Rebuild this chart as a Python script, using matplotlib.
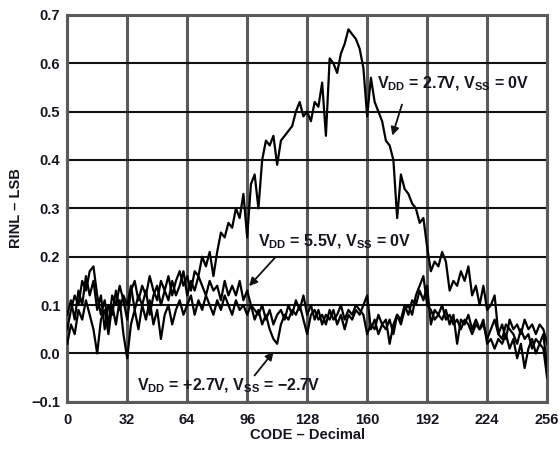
import matplotlib
matplotlib.use('Agg')
import matplotlib.pyplot as plt
import numpy as np

plt.rcParams['font.family'] = ['Liberation Sans', 'DejaVu Sans']
plt.rcParams['mathtext.fontset'] = 'custom'
plt.rcParams['mathtext.bf'] = 'Liberation Sans:bold'
plt.rcParams['mathtext.rm'] = 'Liberation Sans'

# codigos 0..256 de 2 em 2
codes = list(range(0, 258, 2))

# VDD = 2.7V, VSS = 0V
rinl_27 = [0.05, 0.09, 0.12, 0.10, 0.15, 0.13, 0.17, 0.18, 0.12, 0.08,
           0.11, 0.06, 0.12, 0.10, 0.14, 0.11, 0.07, 0.13, 0.15, 0.11,
           0.14, 0.12, 0.16, 0.13, 0.11, 0.15, 0.13, 0.16, 0.12, 0.15,
           0.17, 0.14, 0.16, 0.13, 0.17, 0.16, 0.20, 0.18, 0.21, 0.16,
           0.21, 0.25, 0.24, 0.27, 0.26, 0.30, 0.28, 0.33, 0.24, 0.35,
           0.37, 0.30, 0.40, 0.44, 0.43, 0.45, 0.39, 0.44, 0.45, 0.46,
           0.47, 0.50, 0.52, 0.49, 0.50, 0.48, 0.52, 0.51, 0.56, 0.45,
           0.61, 0.60, 0.58, 0.62, 0.64, 0.67, 0.66, 0.65, 0.63, 0.59,
           0.49, 0.57, 0.52, 0.50, 0.48, 0.44, 0.43, 0.40, 0.28, 0.37,
           0.34, 0.33, 0.31, 0.30, 0.27, 0.28, 0.22, 0.17, 0.19, 0.18,
           0.21, 0.19, 0.13, 0.15, 0.14, 0.17, 0.15, 0.18, 0.12, 0.14,
           0.10, 0.14, 0.09, 0.10, 0.12, 0.04, 0.03, 0.06, 0.05, 0.04,
           0.02, 0.05, 0.03, 0.04, 0.01, 0.03, 0.02, 0.04, -0.03]

# VDD = 5.5V, VSS = 0V
rinl_55 = [0.08, 0.11, 0.07, 0.13, 0.10, 0.16, 0.12, 0.15, 0.09, 0.12,
           0.05, 0.10, 0.08, 0.13, 0.09, 0.12, 0.10, 0.14, 0.09, 0.12,
           0.10, 0.13, 0.08, 0.12, 0.14, 0.10, 0.13, 0.11, 0.15, 0.12,
           0.14, 0.17, 0.12, 0.15, 0.13, 0.16, 0.14, 0.12, 0.15, 0.13,
           0.14, 0.11, 0.15, 0.12, 0.14, 0.12, 0.15, 0.11, 0.13, 0.10,
           0.09, 0.08, 0.10, 0.07, 0.09, 0.06, 0.08, 0.09, 0.07, 0.10,
           0.08, 0.11, 0.09, 0.12, 0.08, 0.10, 0.07, 0.09, 0.06, 0.08,
           0.07, 0.09, 0.06, 0.08, 0.05, 0.08, 0.07, 0.09, 0.08, 0.10,
           0.12, 0.05, 0.07, 0.04, 0.06, 0.05, 0.07, 0.04, 0.08, 0.06,
           0.09, 0.10, 0.08, 0.12, 0.14, 0.16, 0.10, 0.09, 0.07, 0.08,
           0.07, 0.09, 0.06, 0.08, 0.02, 0.07, 0.06, 0.08, 0.05, 0.07,
           0.05, 0.06, 0.03, 0.05, 0.07, 0.04, 0.06, 0.03, 0.07, 0.05,
           0.06, 0.04, 0.07, 0.05, 0.06, 0.04, 0.06, 0.05, 0.02]

# VDD = +2.7V, VSS = -2.7V
rinl_pm27 = [0.02, 0.06, 0.04, 0.09, 0.07, 0.11, 0.08, 0.05, 0.00, 0.07,
             0.09, 0.04, 0.10, 0.06, 0.11, 0.04, -0.01, 0.06, 0.09, 0.05,
             0.10, 0.07, 0.11, 0.06, 0.09, 0.03, 0.08, 0.10, 0.06, 0.09,
             0.11, 0.08, 0.10, 0.12, 0.08, 0.11, 0.09, 0.12, 0.10, 0.08,
             0.11, 0.09, 0.12, 0.10, 0.08, 0.11, 0.09, 0.10, 0.08, 0.10,
             0.07, 0.09, 0.06, 0.08, 0.05, 0.03, 0.02, 0.06, 0.08, 0.07,
             0.09, 0.08, 0.10, 0.07, 0.04, 0.08, 0.09, 0.07, 0.08, 0.06,
             0.09, 0.07, 0.08, 0.10, 0.07, 0.09, 0.08, 0.10, 0.09, 0.08,
             0.04, 0.06, 0.05, 0.08, 0.06, 0.07, 0.02, 0.06, 0.08, 0.07,
             0.10, 0.08, 0.11, 0.10, 0.13, 0.11, 0.14, 0.06, 0.09, 0.08,
             0.10, 0.07, 0.08, 0.06, 0.07, 0.05, 0.07, 0.06, 0.04, 0.06,
             0.05, 0.07, 0.02, 0.03, 0.01, 0.03, 0.02, 0.04, 0.01, 0.03,
             -0.01, 0.02, -0.03, 0.01, 0.03, 0.00, 0.02, 0.01, -0.05]

xticks = [0, 32, 64, 96, 128, 160, 192, 224, 256]
yticks = [-0.1, 0.0, 0.1, 0.2, 0.3, 0.4, 0.5, 0.6, 0.7]

txt = '#151520'

fig = plt.figure(figsize=(5.6, 4.5), dpi=100)
ax = fig.add_axes([0.12, 0.107, 0.857, 0.86])

for xv in xticks:
    ax.axvline(xv, color='#5a5a5a', lw=2.2, zorder=1)
for yv in yticks:
    ax.axhline(yv, color='#111111', lw=1.5, zorder=1)

ax.plot(codes, rinl_27, color='black', lw=1.6, zorder=3)
ax.plot(codes, rinl_55, color='black', lw=1.6, zorder=3)
ax.plot(codes, rinl_pm27, color='black', lw=1.6, zorder=3)

ax.set_xlim(0, 256)
ax.set_ylim(-0.1, 0.7)
ax.set_xticks(xticks)
ax.set_yticks(yticks)
ax.set_yticklabels([f'{v:.1f}'.replace('-', '\u2212') for v in yticks])
ax.tick_params(length=0, labelsize=10.5, labelcolor=txt)
ax.tick_params(axis='x', pad=8)
ax.tick_params(axis='y', pad=5)
for lab in ax.get_xticklabels() + ax.get_yticklabels():
    lab.set_fontweight('bold')
for s in ax.spines.values():
    s.set_color('#5a5a5a')
    s.set_linewidth(2.2)

ax.set_xlabel('CODE \u2013 Decimal', fontsize=10.5, fontweight='bold', color=txt, labelpad=1)
ax.set_ylabel('RINL \u2013 LSB', fontsize=10.5, fontweight='bold', color=txt, labelpad=6)

arrow = dict(arrowstyle='-|>', color='#111111', lw=1.3, mutation_scale=12)
fs = 11.5

ax.text(165, 0.538, r'V$_{\mathbf{DD}}$ = 2.7V, V$_{\mathbf{SS}}$ = 0V',
        fontsize=fs, fontweight='bold', color=txt, ha='left', va='bottom', zorder=5)
ax.annotate('', xy=(173, 0.445), xytext=(179, 0.52), arrowprops=arrow, zorder=5)

ax.text(102, 0.212, r'V$_{\mathbf{DD}}$ = 5.5V, V$_{\mathbf{SS}}$ = 0V',
        fontsize=fs, fontweight='bold', color=txt, ha='left', va='bottom', zorder=5)
ax.annotate('', xy=(96, 0.135), xytext=(112, 0.203), arrowprops=arrow, zorder=5)

ax.text(37, -0.086, r'V$_{\mathbf{DD}}$ = +2.7V, V$_{\mathbf{SS}}$ = $\mathbf{-}$2.7V',
        fontsize=fs, fontweight='bold', color=txt, ha='left', va='bottom', zorder=5)
ax.annotate('', xy=(111, 0.008), xytext=(99, -0.05), arrowprops=arrow, zorder=5)

fig.savefig('out.png', dpi=100)
